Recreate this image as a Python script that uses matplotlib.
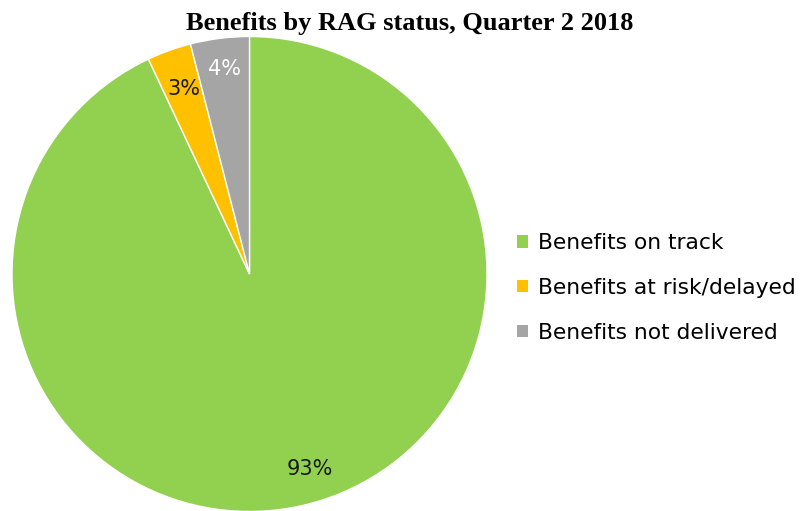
import matplotlib
matplotlib.use("Agg")
import matplotlib.pyplot as plt
from matplotlib.patches import Patch

categories = ["Benefits on track", "Benefits at risk/delayed", "Benefits not delivered"]
shares = [93, 3, 4]
colors = ["#92D050", "#FFC000", "#A5A5A5"]
label_colors = ["#1a1a1a", "#1a1a1a", "#ffffff"]

W, H = 802, 511
fig = plt.figure(figsize=(W / 100, H / 100), dpi=100)

# pie area in pixel units
cx, cy, r = 249.5, 274.0, 237.5
ax = fig.add_axes([(cx - r) / W, (H - cy - r) / H, 2 * r / W, 2 * r / H])

wedges, texts, autotexts = ax.pie(
    shares, colors=colors, startangle=90, counterclock=False, radius=1,
    autopct="%d%%", pctdistance=0.85,
    wedgeprops=dict(edgecolor="white", linewidth=1.0),
    textprops=dict(fontsize=15, family="DejaVu Sans"),
)
ax.set_xlim(-1, 1)
ax.set_ylim(-1, 1)
ax.set_aspect("equal")
ax.axis("off")
for t, c in zip(autotexts, label_colors):
    t.set_color(c)
# shift the large-slice label slightly to the right
x, y = autotexts[0].get_position()
autotexts[0].set_position((x + 0.07, y + 0.01))
x, y = autotexts[1].get_position()
autotexts[1].set_position((x + 0.01, y - 0.02))
x, y = autotexts[2].get_position()
autotexts[2].set_position((x, y + 0.02))

fig.text(410 / W, 1 - 23 / H, "Benefits by RAG status, Quarter 2 2018",
         ha="center", va="center", fontsize=19, fontweight="bold",
         family="Liberation Serif")

handles = [Patch(facecolor=c, edgecolor="none") for c in colors]
fig.legend(handles, categories, loc="center left",
           bbox_to_anchor=(517 / W, 1 - 288 / H), frameon=False,
           handlelength=0.5, handleheight=0.5,
           handletextpad=0.45, labelspacing=1.13, borderaxespad=0,
           borderpad=0, prop=dict(family="DejaVu Sans", size=15.7))

fig.savefig("out.png", dpi=100, facecolor="white")
